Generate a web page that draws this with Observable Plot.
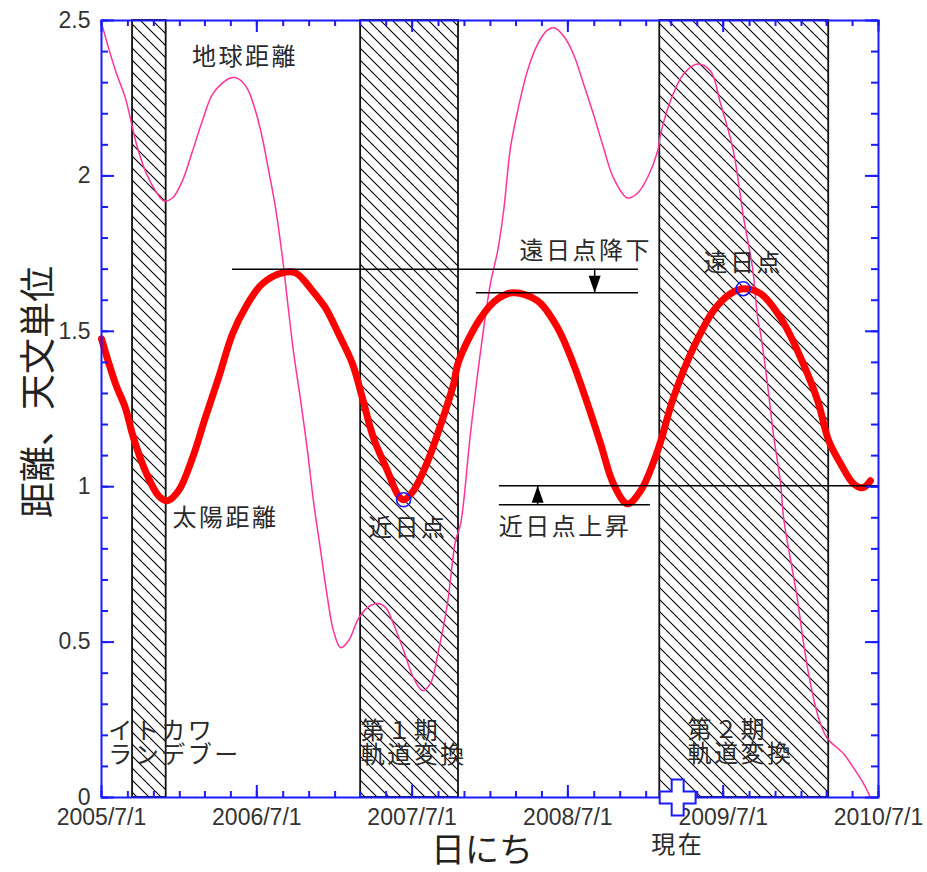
<!DOCTYPE html>
<html><head><meta charset="utf-8">
<script src="https://cdn.jsdelivr.net/npm/d3@7"></script>
<script src="https://cdn.jsdelivr.net/npm/@observablehq/plot@0.6"></script>
<style>body{margin:0;background:#fff}</style>
</head><body><div id="chart"></div>
<script>
// ---- data ----
const sunDates = ["2005-07-01","2005-08-03","2005-08-26","2005-09-14","2005-10-12","2005-11-12","2005-12-03","2005-12-29","2006-01-31","2006-03-02","2006-04-02","2006-05-05","2006-06-04","2006-07-14","2006-08-30","2006-09-30","2006-11-09","2006-12-09","2007-01-09","2007-02-11","2007-03-06","2007-04-01","2007-05-04","2007-05-30","2007-06-11","2007-07-04","2007-08-06","2007-09-06","2007-10-06","2007-10-18","2007-12-09","2008-01-18","2008-02-24","2008-04-21","2008-06-07","2008-07-14","2008-08-16","2008-09-16","2008-10-16","2008-11-18","2008-12-19","2009-01-28","2009-03-06","2009-04-22","2009-06-08","2009-07-18","2009-08-18","2009-09-27","2009-11-13","2009-12-30","2010-02-08","2010-03-06","2010-04-03","2010-05-03","2010-05-25","2010-06-12"];
const sunAU = [1.476,1.331,1.254,1.158,1.051,0.971,0.955,0.987,1.093,1.222,1.350,1.492,1.576,1.653,1.688,1.688,1.630,1.576,1.492,1.395,1.286,1.158,1.051,0.971,0.958,0.987,1.080,1.199,1.328,1.402,1.543,1.604,1.624,1.598,1.511,1.395,1.267,1.138,1.010,0.945,0.987,1.116,1.286,1.447,1.566,1.621,1.637,1.621,1.543,1.415,1.277,1.148,1.074,1.010,0.997,1.019];

const earthDates = ["2005-07-03","2005-08-03","2005-08-26","2005-09-12","2005-09-19","2005-10-12","2005-11-05","2005-11-24","2005-12-15","2006-01-07","2006-01-31","2006-02-23","2006-03-21","2006-04-30","2006-05-19","2006-06-09","2006-06-28","2006-07-14","2006-07-29","2006-08-14","2006-08-30","2006-09-11","2006-09-25","2006-10-12","2006-10-28","2006-11-11","2006-11-28","2006-12-14","2006-12-28","2007-01-14","2007-02-02","2007-02-25","2007-03-18","2007-04-11","2007-04-30","2007-05-18","2007-06-11","2007-07-04","2007-07-25","2007-08-13","2007-09-01","2007-09-22","2007-10-11","2007-10-23","2007-11-15","2007-12-09","2008-01-01","2008-01-18","2008-02-01","2008-02-17","2008-03-05","2008-03-28","2008-04-21","2008-05-14","2008-05-31","2008-06-21","2008-07-14","2008-08-07","2008-08-30","2008-09-23","2008-10-16","2008-11-18","2008-12-12","2009-01-04","2009-01-28","2009-02-04","2009-02-27","2009-03-30","2009-05-02","2009-06-01","2009-06-25","2009-07-25","2009-08-18","2009-09-08","2009-09-20","2009-09-27","2009-10-13","2009-10-27","2009-11-13","2009-11-20","2009-12-23","2010-01-06","2010-01-22","2010-02-10","2010-03-03","2010-04-10","2010-05-03","2010-05-27","2010-06-12"];
const earthAU = [2.482,2.338,2.251,2.154,2.113,2.016,1.952,1.920,1.929,1.984,2.080,2.177,2.267,2.315,2.312,2.280,2.209,2.122,2.016,1.897,1.740,1.598,1.437,1.277,1.116,0.955,0.794,0.643,0.537,0.482,0.505,0.576,0.611,0.624,0.611,0.559,0.473,0.386,0.344,0.367,0.473,0.624,0.826,0.881,1.170,1.437,1.653,1.759,1.887,2.090,2.209,2.338,2.424,2.469,2.476,2.450,2.392,2.296,2.199,2.090,1.994,1.929,1.945,1.994,2.080,2.135,2.241,2.328,2.360,2.338,2.232,2.080,1.865,1.704,1.543,1.492,1.331,1.170,1.010,0.900,0.633,0.495,0.367,0.257,0.190,0.141,0.096,0.045,0.0];

// hatched periods
const bandStart = ["2005-09-12","2007-03-02","2009-02-02"];
const bandEnd   = ["2005-11-30","2007-10-18","2010-03-06"];

// reference lines (aphelion drop / perihelion rise)
const refY  = [1.700, 1.624, 1.003, 0.942];
const refX1 = ["2006-05-05","2007-11-29","2008-01-22","2008-01-22"];
const refX2 = ["2008-12-14","2008-12-14","2010-07-01","2009-01-11"];

// arrows
const arrowDate = ["2008-09-02","2008-04-21"];
const arrowFrom = [1.700, 0.942];
const arrowTo   = [1.624, 1.003];

// perihelion / aphelion markers
const apsisDate = ["2007-06-11","2009-08-17"];
const apsisAU   = [0.958, 1.637];

// annotations
const noteText = ["地球距離","近日点","近日点上昇","遠日点降下","遠日点"];
const noteDate = ["2006-06-03","2007-06-21","2008-06-24","2008-08-12","2009-08-17"];
const noteAU   = [2.383, 0.865, 0.868, 1.756, 1.720];
const leftText = ["太陽距離","イトカワ\nランデブー","第１期\n軌道変換","第２期\n軌道変換"];
const leftDate = ["2005-12-15","2005-07-17","2007-03-02","2009-04-08"];
const leftAU   = [0.897, 0.174, 0.174, 0.178];

const nowDate = "2009-03-16";
const nowLabel = "現在";

const xTickDates  = ["2005-07-01","2006-07-01","2007-07-01","2008-07-01","2009-07-01","2010-07-01"];
const xTickLabels = ["2005/7/1","2006/7/1","2007/7/1","2008/7/1","2009/7/1","2010/7/1"];
const yTickValues = [0, 0.5, 1, 1.5, 2, 2.5];
const yTickLabels = ["0","0.5","1","1.5","2","2.5"];
const xLabel = "日にち";
const yLabel = "距離、天文単位";

// ---- build ----
const parse = d3.utcParse("%Y-%m-%d");
const W = 927, H = 872, mL = 101, mR = 49, mT = 20, mB = 75;
const pw = W - mL - mR, ph = H - mT - mB;

const sun = sunDates.map((d, i) => ({date: parse(d), au: sunAU[i]}));
const earth = earthDates.map((d, i) => ({date: parse(d), au: earthAU[i]}));
const bands = bandStart.map((d, i) => ({start: parse(d), end: parse(bandEnd[i])}));
const refs = refY.map((y, i) => ({y, x1: parse(refX1[i]), x2: parse(refX2[i])}));
const arrows = arrowDate.map((d, i) => ({date: parse(d), from: arrowFrom[i], to: arrowTo[i]}));
const apsides = apsisDate.map((d, i) => ({date: parse(d), au: apsisAU[i]}));
const notes = noteText.map((t, i) => ({text: t, date: parse(noteDate[i]), au: noteAU[i]}));
const lefts = leftText.map((t, i) => ({text: t, date: parse(leftDate[i]), au: leftAU[i]}));
const xLabelMap = new Map(xTickDates.map((d, i) => [+parse(d), xTickLabels[i]]));
const yLabelMap = new Map(yTickValues.map((v, i) => [v, yTickLabels[i]]));

const xDomain = [parse(xTickDates[0]), parse(xTickDates[xTickDates.length - 1])];
const xMinor = d3.utcMonth.every(2).range(xDomain[0], d3.utcDay.offset(xDomain[1], 1));
const xMajor = xTickDates.map(parse);
const yMinor = d3.range(0, 26).map(i => i / 10);
const yMajor = yTickValues;

const blue = "#1a1aff";
const cjk = "'Noto Sans CJK JP', 'Noto Sans', sans-serif";
const txt = "#2a2a2a";

const downHead = {draw(c) { c.moveTo(0, 0); c.lineTo(-6, -17); c.lineTo(6, -17); c.closePath(); }};
const upHead = {draw(c) { c.moveTo(0, 0); c.lineTo(-6, 17); c.lineTo(6, 17); c.closePath(); }};

const chart = Plot.plot({
  width: W, height: H,
  marginLeft: mL, marginRight: mR, marginTop: mT, marginBottom: mB,
  style: {fontFamily: "'Liberation Sans', Arial, sans-serif", fontSize: "23px", color: "#333", background: "#fff"},
  x: {type: "utc", domain: xDomain, ticks: xMajor, tickFormat: d => xLabelMap.get(+d), tickSize: 0, tickPadding: 11, label: null},
  y: {domain: [0, 2.5], ticks: yTickValues, tickFormat: d => yLabelMap.get(d), tickSize: 0, tickPadding: 11, label: null},
  marks: [
    Plot.rect(bands, {x1: "start", x2: "end", y1: 0, y2: 2.5, fill: "none", stroke: "#111", strokeWidth: 1.8}),
    Plot.line(earth, {x: "date", y: "au", stroke: "#ff3399", strokeWidth: 1.5, curve: "catmull-rom"}),
    Plot.line(sun, {x: "date", y: "au", stroke: "#ff0000", strokeWidth: 7, curve: "catmull-rom", strokeLinejoin: "round"}),
    Plot.ruleY(refs, {y: "y", x1: "x1", x2: "x2", stroke: "#000", strokeWidth: 1.5}),
    Plot.ruleX(arrows, {x: "date", y1: "from", y2: "to", stroke: "#000", strokeWidth: 1.5}),
    Plot.dot(arrows.slice(0, 1), {x: "date", y: "to", symbol: downHead, fill: "#000", stroke: "none"}),
    Plot.dot(arrows.slice(1), {x: "date", y: "to", symbol: upHead, fill: "#000", stroke: "none"}),
    Plot.dot(apsides, {x: "date", y: "au", r: 7, stroke: "#1a1aff", strokeWidth: 1.6, fill: "none"}),
    Plot.text(notes, {x: "date", y: "au", text: "text", textAnchor: "middle", fontFamily: cjk, fontSize: 24, fill: txt}),
    Plot.text(lefts, {x: "date", y: "au", text: "text", textAnchor: "start", fontFamily: cjk, fontSize: 24, fill: txt, lineHeight: 1.0}),
    Plot.tickX(xMinor, {x: d => d, insetTop: ph - 6, stroke: blue, strokeWidth: 2}),
    Plot.tickX(xMajor, {x: d => d, insetTop: ph - 12, stroke: blue, strokeWidth: 2}),
    Plot.tickX(xMinor, {x: d => d, insetBottom: ph - 6, stroke: blue, strokeWidth: 2}),
    Plot.tickX(xMajor, {x: d => d, insetBottom: ph - 12, stroke: blue, strokeWidth: 2}),
    Plot.tickY(yMinor, {y: d => d, insetRight: pw - 7, stroke: blue, strokeWidth: 2}),
    Plot.tickY(yMajor, {y: d => d, insetRight: pw - 13, stroke: blue, strokeWidth: 2}),
    Plot.tickY(yMinor, {y: d => d, insetLeft: pw - 7, stroke: blue, strokeWidth: 2}),
    Plot.tickY(yMajor, {y: d => d, insetLeft: pw - 13, stroke: blue, strokeWidth: 2}),
    Plot.frame({stroke: blue, strokeWidth: 2}),
    Plot.dot([{date: parse(nowDate)}], {x: "date", y: 0, symbol: "cross", r: 15.1, fill: "#fff", stroke: blue, strokeWidth: 2}),
    Plot.text([{date: parse(nowDate), t: nowLabel}], {x: "date", y: 0, text: "t", dy: 48, fontFamily: cjk, fontSize: 24, fill: txt}),
    Plot.text([xLabel], {frameAnchor: "bottom", lineAnchor: "middle", textAnchor: "middle", text: d => d, dy: 54, dx: -8, fontFamily: cjk, fontSize: 34, fill: "#222"}),
    Plot.text([yLabel], {frameAnchor: "left", lineAnchor: "middle", textAnchor: "middle", text: d => d, rotate: -90, dx: -62, dy: -17, fontFamily: cjk, fontSize: 36, fill: "#222"})
  ]
});

// hatch pattern for the orbit-change / rendezvous periods
const svg = d3.select(chart);
const defs = svg.insert("defs", ":first-child");
const P = 12;
const pat = defs.append("pattern").attr("id", "hatch").attr("patternUnits", "userSpaceOnUse")
  .attr("width", P).attr("height", P);
pat.append("path").attr("d", `M${-P/4},${3*P/4}L${P/4},${5*P/4}M0,0L${P},${P}M${3*P/4},${-P/4}L${5*P/4},${P/4}`)
  .attr("stroke", "#000").attr("stroke-width", 1.1).attr("fill", "none");
svg.selectAll('g[aria-label="rect"]').attr("fill", "url(#hatch)")
  .selectAll("rect").attr("fill", "url(#hatch)");

// wider character spacing for the annotation texts (as in the original)
svg.selectAll('g[aria-label="text"]').each(function() {
  const s = this.textContent;
  if (s !== xLabel && s !== yLabel) d3.select(this).attr("letter-spacing", "2.5px");
});

document.getElementById("chart").appendChild(chart);
</script>
</body></html>
